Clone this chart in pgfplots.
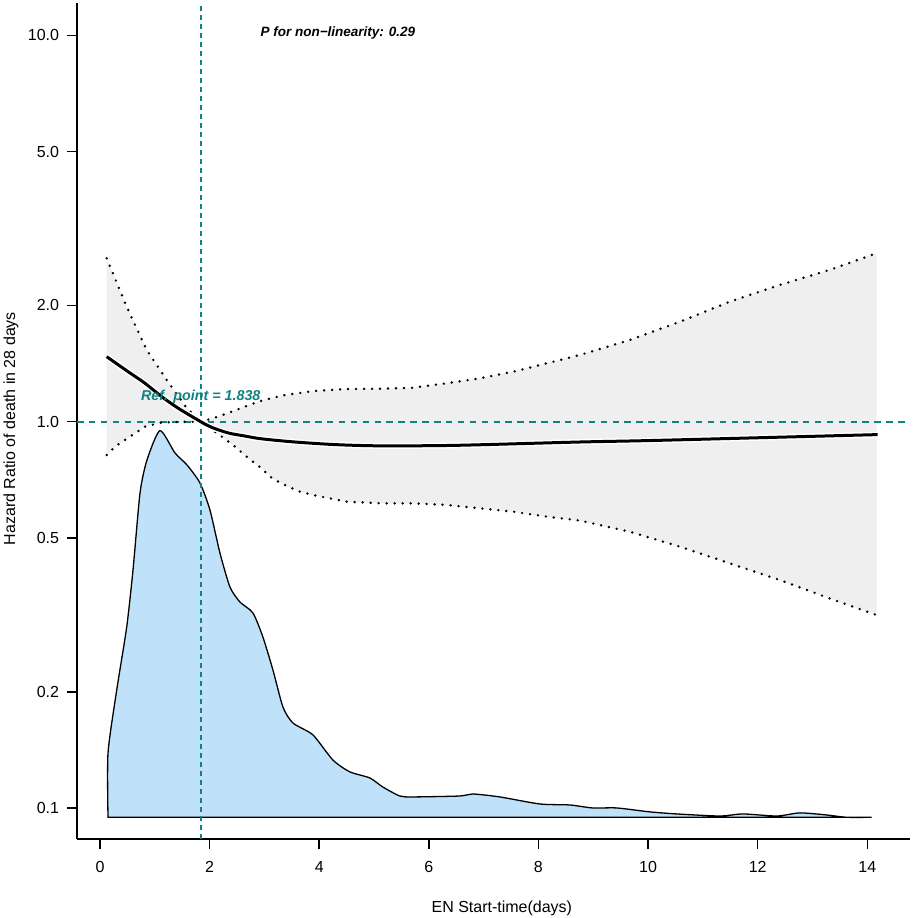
\documentclass[border=0pt]{standalone}
\usepackage{fontspec}
\setmainfont{Liberation Sans}
\usepackage{pgfplots}
\pgfplotsset{compat=1.18}
\usepgfplotslibrary{fillbetween}
\definecolor{teal2}{RGB}{16,130,130}
\definecolor{bandgrey}{RGB}{239,239,239}
\definecolor{dens}{RGB}{191,226,250}
\begin{document}
\begin{tikzpicture}
\begin{axis}[
  scale only axis, width=833bp, height=836bp,
  xmin=-0.42, xmax=14.78,
  ymode=log, ymin=0.0832, ymax=12.12,
  axis x line*=bottom, axis y line*=left,
  axis line style={line width=2bp, -},
  xtick={0,2,4,6,8,10,12,14},
  ytick={0.1,0.2,0.5,1,2,5,10},
  yticklabels={0.1,0.2,0.5,1.0,2.0,5.0,10.0},
  yminorticks=false, xminorticks=false,
  tick align=outside, major tick length=10bp,
  tick style={line width=1.5bp, black},
  ticklabel style={font=\fontsize{16bp}{19bp}\selectfont},
  yticklabel style={xshift=-4.4bp},
  xticklabel style={yshift=-9bp},
  /pgf/number format/assume math mode=true,
  xlabel={EN Start-time(days)},
  ylabel={Hazard Ratio of death in 28 days},
  xlabel style={at={(axis description cs:0.51,-0.0825)}, anchor=center, font=\fontsize{16bp}{19bp}\selectfont},
  ylabel style={at={(axis description cs:-0.0792,0.491)}, anchor=center, font=\fontsize{16bp}{19bp}\selectfont},
  clip=false,
]
% confidence limits (paths for band)
\addplot[draw=none, name path=A, forget plot] coordinates {
(0.122,2.647) (0.487,1.984) (0.852,1.533) (1.217,1.282) (1.582,1.085) (1.838,1.0)
(2.22,0.915) (2.462,0.862) (2.71,0.804) (2.95,0.757) (3.1,0.721) (3.283,0.695)
(3.648,0.659) (3.89,0.646) (4.50,0.621) (5.11,0.615) (5.71,0.615) (6.32,0.609)
(6.93,0.597) (7.54,0.585) (8.15,0.568) (8.75,0.555) (9.666,0.519) (10.58,0.475)
(11.49,0.43) (12.40,0.3895) (13.31,0.349) (14.17,0.316)};
\addplot[draw=none, name path=B, forget plot] coordinates {
(0.122,0.820) (0.274,0.862) (0.456,0.897) (0.638,0.933) (0.821,0.971) (1.125,0.995)
(1.5,0.999) (1.838,1.0) (2.153,1.03) (2.397,1.061) (2.64,1.093) (2.88,1.126)
(3.125,1.15) (3.37,1.172) (3.89,1.2) (4.50,1.215) (5.11,1.217) (5.71,1.224)
(6.32,1.257) (6.93,1.295) (7.54,1.347) (8.15,1.416) (8.75,1.487) (9.666,1.627)
(10.58,1.814) (11.49,2.044) (12.40,2.258) (13.31,2.47) (14.17,2.728)};
\addplot[fill=bandgrey, draw=none] fill between[of=A and B];
% density
\addplot[fill=dens, draw=black, line width=1.3bp, smooth, tension=0.4] coordinates {
(0.146,0.0947) (0.146,0.1389) (0.305,0.2022) (0.487,0.2942) (0.602,0.4133) (0.730,0.6538)
(0.857,0.796) (1.094,0.948) (1.368,0.830) (1.587,0.773) (1.824,0.694) (2.006,0.591)
(2.189,0.457) (2.371,0.3735) (2.553,0.3415) (2.790,0.320) (2.973,0.277) (3.155,0.2278)
(3.338,0.1827) (3.520,0.1661) (3.885,0.1547) (4.249,0.1332) (4.560,0.1241) (4.924,0.1197)
(5.161,0.1134) (5.471,0.1075) (5.708,0.1069) (6.566,0.1075) (6.803,0.1088) (7.295,0.1069)
(8.025,0.1025) (8.572,0.1019) (8.99,0.1001) (9.43,0.1001) (10.03,0.0978) (10.52,0.0966)
(11.31,0.0954) (11.73,0.0966) (12.35,0.0954) (12.77,0.0972) (13.26,0.096) (13.62,0.0947)
(14.08,0.0947)} -- cycle;
% reference lines
\addplot[teal2, line width=2.2bp, dash pattern=on 6.5bp off 5.4bp] coordinates {(-0.42,1) (14.78,1)};
\addplot[teal2, line width=2.2bp, dash pattern=on 4.5bp off 4.5bp] coordinates {(1.838,0.0832) (1.838,12.12)};
% dotted CI lines
\addplot[black, line width=2.7bp, line cap=round, dash pattern=on 0bp off 8bp] coordinates {
(0.122,2.647) (0.487,1.984) (0.852,1.533) (1.217,1.282) (1.582,1.085) (1.838,1.0)
(2.22,0.915) (2.462,0.862) (2.71,0.804) (2.95,0.757) (3.1,0.721) (3.283,0.695)
(3.648,0.659) (3.89,0.646) (4.50,0.621) (5.11,0.615) (5.71,0.615) (6.32,0.609)
(6.93,0.597) (7.54,0.585) (8.15,0.568) (8.75,0.555) (9.666,0.519) (10.58,0.475)
(11.49,0.43) (12.40,0.3895) (13.31,0.349) (14.17,0.316)};
\addplot[black, line width=2.7bp, line cap=round, dash pattern=on 0bp off 8bp] coordinates {
(0.122,0.820) (0.274,0.862) (0.456,0.897) (0.638,0.933) (0.821,0.971) (1.125,0.995)
(1.5,0.999) (1.838,1.0) (2.153,1.03) (2.397,1.061) (2.64,1.093) (2.88,1.126)
(3.125,1.15) (3.37,1.172) (3.89,1.2) (4.50,1.215) (5.11,1.217) (5.71,1.224)
(6.32,1.257) (6.93,1.295) (7.54,1.347) (8.15,1.416) (8.75,1.487) (9.666,1.627)
(10.58,1.814) (11.49,2.044) (12.40,2.258) (13.31,2.47) (14.17,2.728)};
% HR curve with white halo
\addplot[white, line width=6bp, smooth] coordinates {
(0.122,1.473) (0.516,1.346) (0.821,1.257) (1.125,1.161) (1.43,1.083) (1.838,1.0)
(2.037,0.967) (2.341,0.935) (2.645,0.918) (2.949,0.903) (3.557,0.886) (4.25,0.873)
(4.87,0.867) (5.47,0.866) (6.566,0.869) (8.75,0.886) (10.21,0.895) (14.19,0.926)};
\addplot[black, line width=3bp, smooth] coordinates {
(0.122,1.473) (0.516,1.346) (0.821,1.257) (1.125,1.161) (1.43,1.083) (1.838,1.0)
(2.037,0.967) (2.341,0.935) (2.645,0.918) (2.949,0.903) (3.557,0.886) (4.25,0.873)
(4.87,0.867) (5.47,0.866) (6.566,0.869) (8.75,0.886) (10.21,0.895) (14.19,0.926)};
\node[teal2, font=\fontsize{14.3bp}{16bp}\selectfont\bfseries\itshape] at (axis cs:1.838,1.16) {Ref. point = 1.838};
\node[black, font=\fontsize{13.5bp}{16bp}\selectfont\bfseries\itshape] at (axis cs:4.34,10.13) {P for non−linearity: 0.29};
\end{axis}
\pgfresetboundingbox
\path (-77bp,-79bp) rectangle (837bp,839bp);
\end{tikzpicture}
\end{document}
